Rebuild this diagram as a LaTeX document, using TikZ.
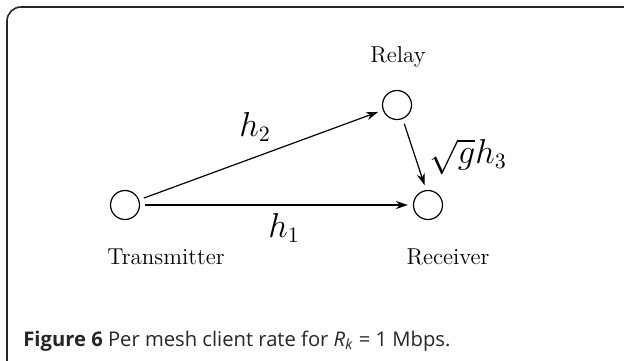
\documentclass[tikz,border=0pt]{standalone}
\usepackage{fontspec}
\newfontfamily\capfont{Open Sans}
\usetikzlibrary{arrows.meta,positioning}

\begin{document}
\begin{tikzpicture}[
x=0.5pt, y=-0.5pt,
Stations/.style={draw=black,circle,line width=0.6pt,minimum size=14.5pt,inner sep=0pt},
Links/.style={draw=black,line width=0.6pt,shorten <=2.5pt,shorten >=2.5pt,-{Stealth[length=6pt,width=4pt]}},
StationNames/.style={font=\fontsize{11.5}{14}\selectfont},
Gains/.style={font=\fontsize{16}{19}\selectfont}
]

\useasboundingbox (0,0) rectangle (624,360);
\clip (0,0) rectangle (624,360);

% frame of the figure box
\draw[line width=0.8pt, rounded corners=7pt, black!85] (7,7) rectangle (660,390);

\node[Stations] (Tx) at (125,205) {};
\node[Stations] (Relay) at (397,105) {};
\node[Stations] (Rx) at (428,205) {};

\draw[Links] (Tx) -- (Relay);
\draw[Links, line width=1pt] (Tx) -- (Rx);
\draw[Links] (Relay.-68) -- (Rx.97);

\node[StationNames] (TxName) at (166,257) {Transmitter};
\node[StationNames] (RelayName) at (398,57) {Relay};
\node[StationNames] (RxName) at (448,257) {Receiver};

\node[Gains] (hTwo) at (255,127) {$h_2$};
\node[Gains] (hOne) at (284,228) {$h_1$};
\node[Gains] (hThree) at (468,157) {$\sqrt{g}h_3$};

\node[anchor=base west, inner sep=0pt, black!85] (Caption) at (23,346)
{\capfont\fontsize{10.1}{12}\selectfont \textbf{Figure 6} Per mesh client rate for \textit{R}\textsubscript{\textit{k}} = 1 Mbps.};

\end{tikzpicture}
\end{document}
